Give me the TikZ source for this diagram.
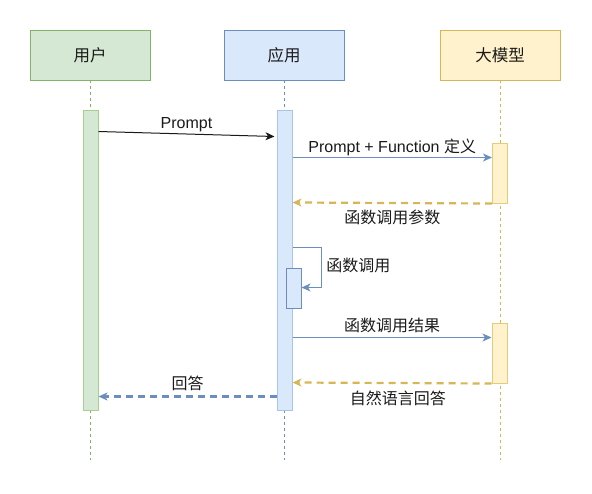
\documentclass[tikz,border=0pt]{standalone}
\usepackage{fontspec}
\setmainfont{Liberation Sans}
\newfontfamily\cjk{Noto Sans CJK SC}
\usetikzlibrary{arrows.meta}
\definecolor{usrfill}{HTML}{D5E8D4}
\definecolor{usrline}{HTML}{82B366}
\definecolor{usrbar}{HTML}{A8D08D}
\definecolor{appfill}{HTML}{DAE8FC}
\definecolor{appline}{HTML}{6C8EBF}
\definecolor{appbar}{HTML}{A9C4EB}
\definecolor{llmfill}{HTML}{FFF2CC}
\definecolor{llmline}{HTML}{D6B656}
\definecolor{llmbar}{HTML}{E6CC7A}
\definecolor{txt}{HTML}{1A1A1A}
\tikzset{
  head/.style={draw, minimum width=120pt, minimum height=50pt, font=\fontsize{16.5}{18}\selectfont\cjk, text=txt},
  bar/.style={draw, line width=1pt, minimum width=15pt, inner sep=0pt},
  life/.style={dash pattern=on 3pt off 3pt, line width=0.8pt},
  lbl/.style={font=\fontsize{16}{18}\selectfont, text=txt},
  tip/.style={-{Stealth[length=9pt,width=8pt,inset=2.5pt]}},
  call/.style={tip, line width=1pt, color=appline},
  back/.style={tip, line width=2.2pt, dash pattern=on 7pt off 5pt},
}
\begin{document}
\begin{tikzpicture}[x=1pt,y=-1pt]
  \useasboundingbox (0,0) rectangle (592,493);
  % participants
  \node[head, draw=usrline, fill=usrfill] (usr) at (90,55) {用户};
  \node[head, draw=appline, fill=appfill] (app) at (284,55) {应用};
  \node[head, draw=llmline, fill=llmfill] (llm) at (500,55) {大模型};
  % lifelines
  \draw[life, usrline] (usr.south) -- ++(0,380);
  \draw[life, appline] (app.south) -- ++(0,380);
  \draw[life, llmline] (llm.south) -- ++(0,380);
  % activation bars
  \node[bar, draw=usrbar, fill=usrfill, minimum height=300pt] (usrb) at (90.5,260) {};
  \node[bar, draw=appbar, fill=appfill, minimum height=300pt] (appb) at (284.5,260) {};
  \node[bar, draw=appline, fill=appfill, minimum height=40pt] (appb2) at (293.5,288) {};
  \node[bar, draw=llmbar, fill=llmfill, minimum height=60pt] (llmb1) at (500,173) {};
  \node[bar, draw=llmbar, fill=llmfill, minimum height=60pt] (llmb2) at (499.5,353) {};
  % messages
  \draw[tip, line width=1pt, txt] ([yshift=-22]usrb.north east) -- ([yshift=-27,xshift=-2]appb.north west)
    node[lbl, midway, above=-2pt] {Prompt};
  \draw[call] ([yshift=-48]appb.north east) -- ([yshift=-15]llmb1.north west)
    node[lbl, midway, above=-2pt] {Prompt + Function {\cjk 定义}};
  \draw[back, llmline] (llmb1.south west) -- ([yshift=-93]appb.north east)
    node[lbl, midway, below=3pt] {\cjk 函数调用参数};
  \draw[call] ([yshift=-138]appb.north east) -- ++(29,0) -- ++(0,40)
    node[lbl, pos=0.45, right=1pt] {\cjk 函数调用} -- ([yshift=-20]appb2.north east);
  \draw[call] ([yshift=-228]appb.north east) -- ([yshift=-15]llmb2.north west)
    node[lbl, midway, above=1pt] {\cjk 函数调用结果};
  \draw[back, llmline] (llmb2.south west) -- ([yshift=-273]appb.north east)
    node[lbl, pos=0.47, below=3pt] {\cjk 自然语言回答};
  \draw[back, appline] ([yshift=-287]appb.north west) -- ([yshift=-287]usrb.north east)
    node[lbl, pos=0.5, above=1pt] {\cjk 回答};
\end{tikzpicture}
\end{document}
